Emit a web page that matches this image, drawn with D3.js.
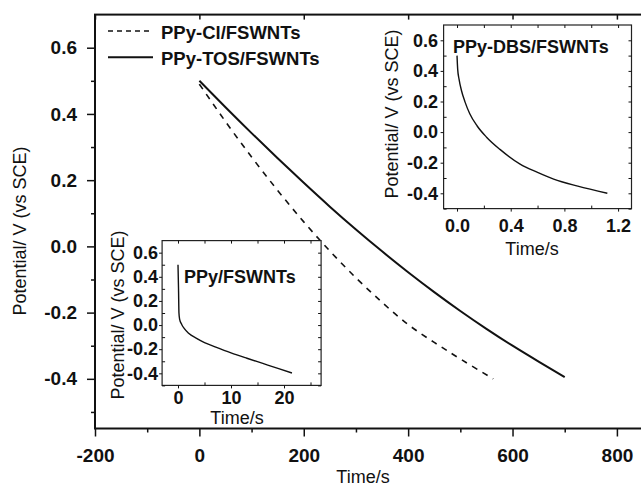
<!DOCTYPE html>
<html>
<head>
<meta charset="utf-8">
<script src="https://cdnjs.cloudflare.com/ajax/libs/d3/7.8.5/d3.min.js"></script>
<style>
  body { margin: 0; background: #fff; }
  svg { font-family: 'Liberation Sans', Arial, sans-serif; }
  .tick text { font-weight: bold; font-size: 18px; fill: #111; }
  .main-axis .tick text { font-size: 19px; }
  .tick line { stroke: #111; }
</style>
</head>
<body>
<div id="chart"></div>
<script>
// main chart: galvanostatic discharge curves
const tosTime = [0, 50, 100, 150, 200, 250, 300, 350, 400, 450, 500, 550, 600, 650, 700];
const tosPotential = [0.50, 0.42, 0.342, 0.266, 0.192, 0.12, 0.051, -0.015, -0.078, -0.138, -0.195, -0.249, -0.30, -0.348, -0.395];
const clTime = [0, 50, 100, 150, 200, 250, 300, 350, 400, 450, 500, 563];
const clPotential = [0.49, 0.377, 0.27, 0.169, 0.074, -0.014, -0.095, -0.169, -0.236, -0.29, -0.34, -0.40];

// insets
const dbsTime = [0, 0.005, 0.015, 0.033, 0.06, 0.095, 0.15, 0.22, 0.32, 0.47, 0.6, 0.72, 0.9, 1.12];
const dbsPotential = [0.50, 0.41, 0.346, 0.272, 0.196, 0.12, 0.04, -0.033, -0.113, -0.209, -0.263, -0.307, -0.353, -0.40];
const ppyTime = [0, 0.1, 0.18, 0.3, 0.7, 1.2, 2, 3.5, 5, 7, 10, 13, 16, 19, 21.5];
const ppyPotential = [0.50, 0.30, 0.10, 0.05, 0.005, -0.03, -0.068, -0.11, -0.145, -0.18, -0.23, -0.275, -0.318, -0.361, -0.397];

const legendLabels = ['PPy-Cl/FSWNTs', 'PPy-TOS/FSWNTs'];
const mainXTicks = [-200, 0, 200, 400, 600, 800];
const mainXMinor = [-100, 100, 300, 500, 700];
const mainYTicks = [-0.4, -0.2, 0.0, 0.2, 0.4, 0.6];
const mainYMinor = [-0.5, -0.3, -0.1, 0.1, 0.3, 0.5];
const insetYTicks = [-0.4, -0.2, 0.0, 0.2, 0.4, 0.6];
const insetYMinor = [-0.5, -0.3, -0.1, 0.1, 0.3, 0.5];
const dbsXTicks = [0.0, 0.4, 0.8, 1.2];
const dbsXMinor = [0.2, 0.6, 1.0];
const ppyXTicks = [0, 10, 20];
const ppyXMinor = [5, 15, 25];

const yTitle = 'Potential/ V (vs SCE)';
const xTitle = 'Time/s';
const fmt1 = d => d.toFixed(1);

const svg = d3.select('#chart').append('svg')
	.attr('width', 641)
	.attr('height', 488);

function toPoints(xs, ys) {
	return xs.map((t, i) => [t, ys[i]]);
}

// ---- main plot ----
const x = d3.scaleLinear().domain([-200, 850]).range([95, 643]);
const y = d3.scaleLinear().domain([-0.55, 0.7]).range([428.5, 14.6]);

const main = svg.append('g').attr('class', 'main-axis');

main.append('g')
	.attr('transform', `translate(0,${y.range()[0]})`)
	.call(d3.axisBottom(x).tickValues(mainXTicks).tickFormat(d => String(d)).tickSize(8).tickPadding(12))
	.call(g => g.select('.domain').remove());
main.append('g')
	.attr('transform', `translate(0,${y.range()[0]})`)
	.call(d3.axisBottom(x).tickValues(mainXMinor).tickFormat('').tickSize(4))
	.call(g => g.select('.domain').remove());
main.append('g')
	.attr('transform', `translate(${x.range()[0]},0)`)
	.call(d3.axisLeft(y).tickValues(mainYTicks).tickFormat(fmt1).tickSize(8).tickPadding(10))
	.call(g => g.select('.domain').remove());
main.append('g')
	.attr('transform', `translate(${x.range()[0]},0)`)
	.call(d3.axisLeft(y).tickValues(mainYMinor).tickFormat('').tickSize(4))
	.call(g => g.select('.domain').remove());
main.append('g')
	.attr('transform', `translate(0,${y.range()[1]})`)
	.call(d3.axisTop(x).tickValues(mainXTicks).tickFormat('').tickSize(-5))
	.call(g => g.select('.domain').remove());
main.selectAll('.tick line').attr('stroke-width', 1.5);

main.append('rect')
	.attr('x', x.range()[0])
	.attr('y', y.range()[1])
	.attr('width', x.range()[1] - x.range()[0])
	.attr('height', y.range()[0] - y.range()[1])
	.attr('fill', 'none')
	.attr('stroke', '#111')
	.attr('stroke-width', 2);

const mainLine = d3.line().x(d => x(d[0])).y(d => y(d[1])).curve(d3.curveNatural);

main.append('path')
	.datum(toPoints(clTime, clPotential))
	.attr('d', mainLine)
	.attr('fill', 'none')
	.attr('stroke', '#111')
	.attr('stroke-width', 1.6)
	.attr('stroke-dasharray', '6,6');

main.append('path')
	.datum(toPoints(tosTime, tosPotential))
	.attr('d', mainLine)
	.attr('fill', 'none')
	.attr('stroke', '#111')
	.attr('stroke-width', 2);

// legend
const legend = main.append('g');
legendLabels.forEach((label, i) => {
	const ly = 31 + i * 26.3;
	legend.append('line')
		.attr('x1', 108).attr('x2', 153)
		.attr('y1', ly).attr('y2', ly)
		.attr('stroke', '#111')
		.attr('stroke-width', i === 0 ? 1.6 : 2)
		.attr('stroke-dasharray', i === 0 ? '5,4' : null);
	legend.append('text')
		.attr('x', 161)
		.attr('y', ly + 7.5)
		.attr('font-size', '18.5px')
		.attr('font-weight', 'bold')
		.attr('fill', '#111')
		.text(label);
});

main.append('text')
	.attr('x', 363).attr('y', 483)
	.attr('text-anchor', 'middle')
	.attr('font-size', '18px')
	.attr('fill', '#111')
	.text(xTitle);
main.append('text')
	.attr('transform', 'translate(26,231) rotate(-90)')
	.attr('text-anchor', 'middle')
	.attr('font-size', '18px')
	.attr('fill', '#111')
	.text(yTitle);

// ---- insets ----
function drawInset(cfg) {
	const ix = d3.scaleLinear().domain(cfg.xDomain).range(cfg.xRange);
	const iy = d3.scaleLinear().domain([-0.5, 0.7]).range(cfg.yRange);
	const g = svg.append('g');
	const left = cfg.xRange[0], right = cfg.xRange[1];
	const top = cfg.yRange[1], bottom = cfg.yRange[0];

	g.append('rect')
		.attr('x', left).attr('y', top)
		.attr('width', right - left).attr('height', bottom - top)
		.attr('fill', '#fff')
		.attr('stroke', '#222')
		.attr('stroke-width', 1.2);

	g.append('g')
		.attr('transform', `translate(0,${bottom})`)
		.call(d3.axisBottom(ix).tickValues(cfg.xTicks).tickFormat(cfg.xFormat).tickSize(3).tickPadding(cfg.xPad))
		.call(a => a.select('.domain').remove());
	g.append('g')
		.attr('transform', `translate(${left},0)`)
		.call(d3.axisLeft(iy).tickValues(insetYTicks).tickFormat(fmt1).tickSize(3).tickPadding(cfg.yPad))
		.call(a => a.select('.domain').remove());

	// inward minor and mirrored ticks
	const allX = cfg.xTicks.concat(cfg.xMinor);
	const allY = insetYTicks.concat(insetYMinor);
	g.append('g')
		.attr('transform', `translate(0,${bottom})`)
		.call(d3.axisBottom(ix).tickValues(cfg.xMinor).tickFormat('').tickSize(-3))
		.call(a => a.select('.domain').remove());
	g.append('g')
		.attr('transform', `translate(0,${top})`)
		.call(d3.axisTop(ix).tickValues(allX).tickFormat('').tickSize(-3))
		.call(a => a.select('.domain').remove());
	g.append('g')
		.attr('transform', `translate(${left},0)`)
		.call(d3.axisLeft(iy).tickValues(insetYMinor).tickFormat('').tickSize(-3))
		.call(a => a.select('.domain').remove());
	g.append('g')
		.attr('transform', `translate(${right},0)`)
		.call(d3.axisRight(iy).tickValues(allY).tickFormat('').tickSize(-3))
		.call(a => a.select('.domain').remove());
	g.selectAll('.tick line').attr('stroke-width', 1);

	g.append('path')
		.datum(toPoints(cfg.time, cfg.potential))
		.attr('d', d3.line().x(d => ix(d[0])).y(d => iy(d[1])).curve(d3.curveMonotoneX))
		.attr('fill', 'none')
		.attr('stroke', '#111')
		.attr('stroke-width', 1.4);

	g.append('text')
		.attr('x', cfg.titlePos[0]).attr('y', cfg.titlePos[1])
		.attr('font-size', '18px')
		.attr('font-weight', 'bold')
		.attr('fill', '#111')
		.text(cfg.title);
	g.append('text')
		.attr('x', cfg.xTitlePos[0]).attr('y', cfg.xTitlePos[1])
		.attr('text-anchor', 'middle')
		.attr('font-size', '18px')
		.attr('font-weight', 'normal')
		.attr('fill', '#111')
		.text(xTitle);
	g.append('text')
		.attr('transform', `translate(${cfg.yTitlePos[0]},${cfg.yTitlePos[1]}) rotate(-90)`)
		.attr('text-anchor', 'middle')
		.attr('font-size', '18px')
		.attr('fill', '#111')
		.text(yTitle);
}

drawInset({
	time: dbsTime,
	potential: dbsPotential,
	xDomain: [-0.1, 1.3],
	xRange: [443.6, 631.5],
	yRange: [208.6, 25],
	xTicks: dbsXTicks,
	xMinor: dbsXMinor,
	xFormat: fmt1,
	xPad: 8,
	yPad: 2.5,
	title: 'PPy-DBS/FSWNTs',
	titlePos: [453, 53],
	xTitlePos: [532, 255],
	yTitlePos: [398, 114]
});

drawInset({
	time: ppyTime,
	potential: ppyPotential,
	xDomain: [-3, 27],
	xRange: [162.1, 321.1],
	yRange: [385.4, 240.6],
	xTicks: ppyXTicks,
	xMinor: ppyXMinor,
	xFormat: d => String(d),
	xPad: 3,
	yPad: 1,
	title: 'PPy/FSWNTs',
	titlePos: [184, 283],
	xTitlePos: [237, 424],
	yTitlePos: [124, 315]
});
</script>
</body>
</html>
